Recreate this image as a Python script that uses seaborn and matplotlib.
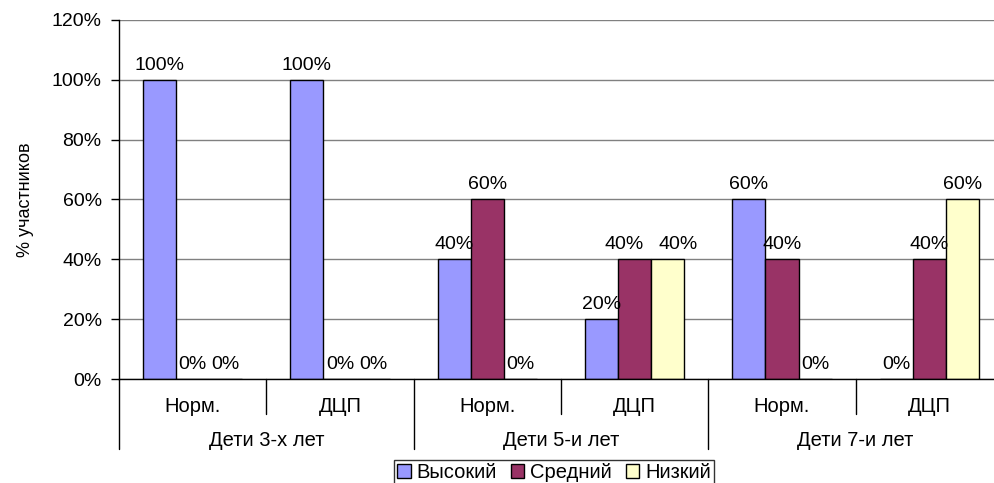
import matplotlib
matplotlib.use("Agg")
import matplotlib.pyplot as plt
import matplotlib.transforms as mtransforms
from matplotlib.patches import Patch
import seaborn as sns
import pandas as pd

# Data
groups = ["Дети 3-х лет", "Дети 5-и лет", "Дети 7-и лет"]
subgroups = ["Норм.", "ДЦП"]
levels = ["Высокий", "Средний", "Низкий"]
high = [100, 100, 40, 20, 60, 0]
medium = [0, 0, 60, 40, 40, 40]
low = [0, 0, 0, 40, 0, 60]
yticks = [0, 20, 40, 60, 80, 100, 120]
colors = ["#9999FF", "#993366", "#FFFFCC"]

categories = [f"{g}|{s}" for g in groups for s in subgroups]
rows = []
for lvl, vals in zip(levels, [high, medium, low]):
    for cat, v in zip(categories, vals):
        rows.append({"cat": cat, "level": lvl, "value": v})
df = pd.DataFrame(rows)

sns.set_style("white")
plt.rcParams["font.family"] = ["Liberation Sans", "DejaVu Sans"]
plt.rcParams["text.color"] = "black"
plt.rcParams["axes.labelcolor"] = "black"
plt.rcParams["ytick.color"] = "black"
plt.rcParams["xtick.color"] = "black"

W, H = 995, 483
fig = plt.figure(figsize=(W / 100, H / 100), dpi=100)
left_px, right_px, top_px, zero_px = 119, 1003, 20, 379
ax = fig.add_axes([left_px / W, (H - zero_px) / H,
                   (right_px - left_px) / W, (zero_px - top_px) / H])

sns.barplot(data=df, x="cat", y="value", hue="level", order=categories,
            hue_order=levels, palette=colors, width=0.672, gap=0,
            edgecolor="black", linewidth=1, saturation=1, ax=ax,
            legend=False, errorbar=None)

ax.set_xlim(-0.5, 5.5)
ax.set_ylim(0, 120)
ax.set_yticks(yticks)
ax.set_yticklabels([f"{t}%" for t in yticks], fontsize=14)
ax.set_xticks([])
ax.set_xlabel("")
ax.set_ylabel("")
ax.tick_params(axis="y", length=5.5, width=1, color="black", direction="out",
               left=True, pad=7)
ax.grid(axis="y", color="#808080", linewidth=1)
ax.set_axisbelow(True)
for side in ("top", "right"):
    ax.spines[side].set_visible(False)
for side in ("left", "bottom"):
    ax.spines[side].set_color("black")
    ax.spines[side].set_linewidth(1)

fig.text(26 / W, 1 - 200 / H, "% участников", rotation=90, ha="center",
         va="center", fontsize=13)

# Value labels above each bar
label_sets = []
for container in ax.containers:
    texts = ax.bar_label(container,
                         labels=[f"{v:.0f}%" for v in container.datavalues],
                         padding=4.5, fontsize=14)
    label_sets.append(list(zip(texts, container.datavalues)))

# Push apart neighbouring labels of equal height that would collide
fig.canvas.draw()
renderer = fig.canvas.get_renderer()
px_to_pt = 72 / fig.dpi
for i in range(len(categories)):
    for k in range(len(levels) - 1):
        (t1, v1), (t2, v2) = label_sets[k][i], label_sets[k + 1][i]
        if v1 != v2 or v1 == 0:
            continue
        b1 = t1.get_window_extent(renderer)
        b2 = t2.get_window_extent(renderer)
        overlap = b1.x1 - b2.x0
        if overlap > -4:
            shift = (overlap + 14) / 2 * px_to_pt
            t1.xyann = (t1.xyann[0] - shift, t1.xyann[1])
            t2.xyann = (t2.xyann[0] + shift, t2.xyann[1])

# Two-level category axis
trans = mtransforms.blended_transform_factory(ax.transData, ax.transAxes)
for x in (0.5, 2.5, 4.5):
    ax.plot([x, x], [0, -0.098], transform=trans, color="black", lw=1,
            clip_on=False)
for x in (-0.5, 1.5, 3.5, 5.5):
    ax.plot([x, x], [0, -0.195], transform=trans, color="black", lw=1,
            clip_on=False)
for i, cat in enumerate(categories):
    ax.text(i, -0.091, cat.split("|")[1], transform=trans, ha="center",
            va="baseline", fontsize=14.5)
for j, g in enumerate(groups):
    ax.text(2 * j + 0.5, -0.187, g, transform=trans, ha="center",
            va="baseline", fontsize=14.5)

handles = [Patch(facecolor=c, edgecolor="black", linewidth=1) for c in colors]
fig.legend(handles, levels, loc="lower center", bbox_to_anchor=(0.557, -0.004),
           ncol=3, fontsize=14.5, frameon=True, fancybox=False,
           edgecolor="black", handlelength=0.65, handleheight=0.65,
           handletextpad=0.3, columnspacing=0.7, borderpad=0.15,
           borderaxespad=0)

fig.savefig("out.png", dpi=100)
